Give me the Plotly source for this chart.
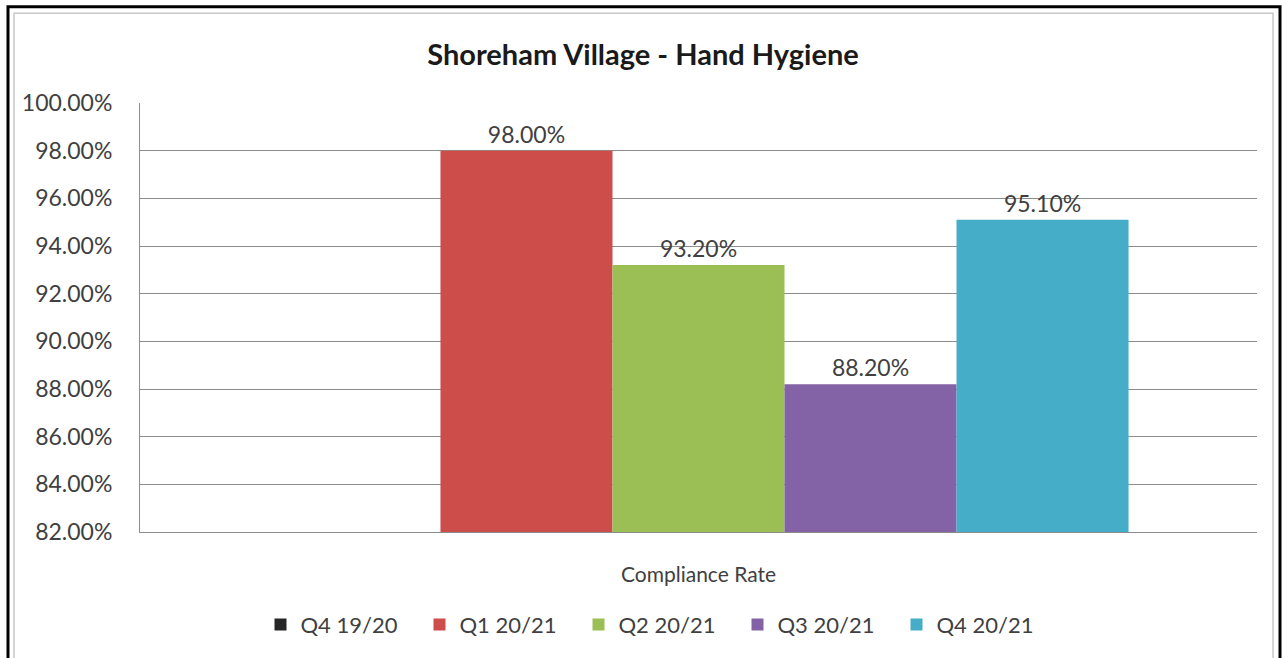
import plotly.graph_objects as go

category = ["Compliance Rate"]
series_names = ["Q4 19/20", "Q1 20/21", "Q2 20/21", "Q3 20/21", "Q4 20/21"]
series_values = [None, 0.980, 0.932, 0.882, 0.951]
series_colors = ["#262626", "#cd4d4b", "#9cbf55", "#8462a6", "#46adc8"]
y_ticks = [0.82, 0.84, 0.86, 0.88, 0.90, 0.92, 0.94, 0.96, 0.98, 1.00]

FONT = "Lato, Open Sans, sans-serif"

fig = go.Figure()
for name, val, col in zip(series_names, series_values, series_colors):
    fig.add_trace(go.Bar(
        name=name,
        x=category,
        y=[val],
        marker=dict(color=col, line=dict(width=0)),
        text=[f"{val*100:.2f}%" if val is not None else ""],
        textposition="outside",
        textfont=dict(family=FONT, size=23, color="#404040"),
        cliponaxis=False,
    ))

L, R, T, B = 140, 1257, 103, 538
W, H = 1283, 658

def px(x):
    return (x - L) / (R - L)

def py(y):
    return (B - y) / (B - T)

shapes = [
    dict(type="rect", xref="paper", yref="paper",
         x0=px(14), x1=px(1273), y0=py(700), y1=py(12),
         line=dict(color="#c8c8c8", width=1.5), layer="below"),
    dict(type="rect", xref="paper", yref="paper",
         x0=px(8), x1=px(1280), y0=py(700), y1=py(5.5),
         line=dict(color="#000000", width=3), layer="above"),
]

fig.update_layout(
    width=W, height=H,
    margin=dict(l=L, r=W - R, t=T, b=H - B),
    paper_bgcolor="white",
    plot_bgcolor="white",
    barmode="group",
    bargap=0.23,
    bargroupgap=0,
    title=dict(text="<b>Shoreham Village - Hand Hygiene</b>",
               x=643 / W, xref="container", xanchor="center",
               y=1 - 55 / H, yref="container", yanchor="middle",
               font=dict(family=FONT, size=29, color="#1a1a1a")),
    font=dict(family=FONT, size=21, color="#404040"),
    showlegend=True,
    legend=dict(orientation="h", x=px(658), xanchor="center",
                y=py(632), yanchor="middle",
                font=dict(family=FONT, size=22, color="#404040"),
                entrywidth=114, entrywidthmode="pixels",
                itemwidth=30, traceorder="normal"),
    shapes=shapes,
)

fig.update_yaxes(
    range=[0.82, 1.00],
    tickvals=y_ticks,
    tickformat=".2%",
    showgrid=True, gridcolor="#8c8c8c", gridwidth=1,
    showline=True, linecolor="#8c8c8c", linewidth=1,
    ticks="", zeroline=False,
    tickfont=dict(family=FONT, size=23, color="#404040"),
    ticklabelstandoff=22,
)
fig.update_xaxes(
    showline=True, linecolor="#8c8c8c", linewidth=1,
    ticks="", showgrid=False,
    tickfont=dict(family=FONT, size=21, color="#404040"),
    ticklabelstandoff=24,
)

fig.write_html("out.html", config={"displayModeBar": False},
               post_script="document.body.style.margin='0px';")
